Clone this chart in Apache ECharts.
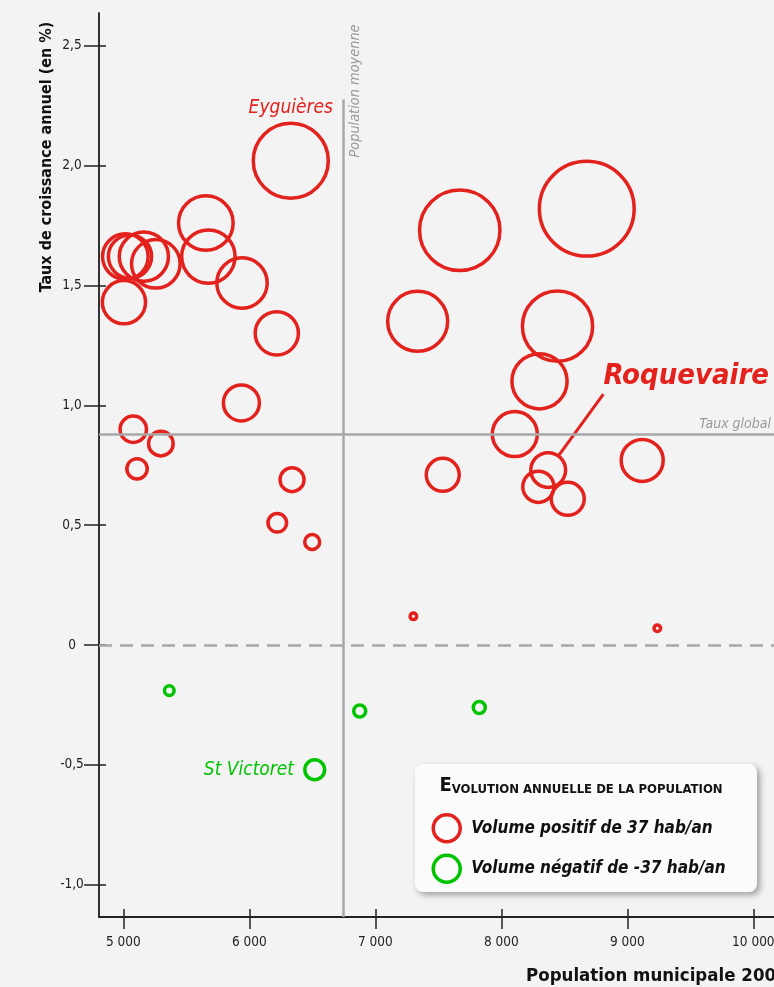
<!DOCTYPE html>
<html>
<head>
<meta charset="utf-8">
<script src="https://cdn.jsdelivr.net/npm/echarts@6/dist/echarts.min.js"></script>
<style>
html,body{margin:0;padding:0;background:#f3f3f3;overflow:hidden;}
#chart{width:774px;height:987px;}
</style>
</head>
<body>
<div id="chart"></div>
<script>
// ---- Data ----
// Communes with a positive annual volume (population 2007, annual growth %, volume hab/an)
const posNames = ['Eyguières', '', '', '', '', '', '', '', 'Roquevaire', '', '', '', '', '', '', '', '', '', '', '', '', '', '', '', '', '', '', '', '', ''];
const posPopulation = [6329, 7670, 8678, 7336, 8446, 8303, 8107, 7535, 8372, 8294, 8527, 9118, 5937, 5079, 5298, 5109, 6339, 6222, 6499, 7302, 9238, 5016, 5053, 5163, 5258, 5005, 5655, 5675, 5942, 6218];
const posRate =       [2.02, 1.73, 1.82, 1.35, 1.33, 1.10, 0.88, 0.71, 0.73, 0.66, 0.61, 0.77, 1.01, 0.90, 0.84, 0.735, 0.69, 0.51, 0.43, 0.12, 0.07, 1.62, 1.62, 1.62, 1.59, 1.43, 1.76, 1.62, 1.51, 1.30];
const posVolume =     [125, 134, 158, 100, 117, 92, 75, 55, 58, 52, 55, 70, 60, 44, 41, 34, 40, 31, 25, 11, 11, 76, 72, 82, 81, 72, 91, 89, 84, 72];

// Communes with a negative annual volume
const negNames = ['', '', '', 'St Victoret'];
const negPopulation = [5365, 6876, 7825, 6519];
const negRate = [-0.19, -0.275, -0.26, -0.52];
const negVolume = [-16, -20, -20, -33];

// Reference values
const avgPopulation = 6746;     // Population moyenne
const globalRate = 0.884;       // Taux global
const legendVolume = 37;

// Axes
const xMin = 4807, xMax = 10164;
const yMin = -1.134, yMax = 2.636;
const xTicks = [5000, 6000, 7000, 8000, 9000, 10000];
const yTicks = [-1, -0.5, 0, 0.5, 1, 1.5, 2, 2.5];
const avgLineTop = 2.275;

const seriesPosName = 'Volume positif de ' + legendVolume + ' hab/an';
const seriesNegName = 'Volume négatif de -' + legendVolume + ' hab/an';

// ---- Styling ----
const FONT = "'DejaVu Sans Condensed', 'Liberation Sans Narrow', sans-serif";
const RED = '#e3211d';
const GREEN = '#00c400';
const GRAY = '#a8a8a8';
const DIAM_PER_VOL = 0.6;
const STROKE = 3.5;

function build(names, pops, rates, vols) {
  return pops.map((p, i) => ({ name: names[i], value: [p, rates[i], vols[i]] }));
}
const posData = build(posNames, posPopulation, posRate, posVolume);
const negData = build(negNames, negPopulation, negRate, negVolume);

posData.forEach(d => {
  if (d.name === 'Eyguières') {
    d.label = { show: true, position: 'top', distance: 4, formatter: '{b}', color: RED,
      fontFamily: FONT, fontStyle: 'italic', fontSize: 19 };
  } else if (d.name === 'Roquevaire') {
    d.label = { show: true, position: 'inside', formatter: '{b}\n', color: RED, lineHeight: 36,
      fontFamily: FONT, fontStyle: 'italic', fontWeight: 'bold', fontSize: 29 };
    d.labelLine = { show: true, length2: 0, lineStyle: { color: RED, width: 3 } };
  }
});
negData.forEach(d => {
  if (d.name === 'St Victoret') {
    d.label = { show: true, position: 'left', distance: 9, formatter: '{b}', color: GREEN,
      fontFamily: FONT, fontStyle: 'italic', fontSize: 19 };
  }
});
const roqIdx = posNames.indexOf('Roquevaire');

const fmtX = v => String(v).replace(/\B(?=(\d{3})+(?!\d))/g, ' ');
const fmtY = v => v === 0 ? '0' : v.toFixed(1).replace('.', ',');

const chart = echarts.init(document.getElementById('chart'), null, { renderer: 'canvas' });
const tickColor = '#222';

chart.setOption({
  backgroundColor: '#f3f3f3',
  animation: false,
  grid: { left: 99, right: 0, top: 13, bottom: 70, containLabel: false, outerBoundsMode: 'none' },
  xAxis: [{
    type: 'value', min: xMin, max: xMax, position: 'bottom',
    axisLine: { onZero: false, lineStyle: { color: tickColor, width: 2 } },
    axisTick: { show: true, customValues: xTicks, length: 12, lineStyle: { color: tickColor, width: 1.5 } },
    axisLabel: { customValues: xTicks, formatter: fmtX, margin: 18, fontFamily: FONT, fontSize: 13.5, color: '#222' },
    splitLine: { show: false }
  }, {
    type: 'value', min: xMin, max: xMax, position: 'bottom',
    axisLine: { show: false, onZero: false },
    axisTick: { show: true, inside: true, customValues: xTicks, length: 8, lineStyle: { color: tickColor, width: 1.5 } },
    axisLabel: { show: false },
    splitLine: { show: false }
  }],
  yAxis: [{
    type: 'value', min: yMin, max: yMax, position: 'left',
    axisLine: { show: true, onZero: false, lineStyle: { color: '#333', width: 2 } },
    axisTick: { show: true, customValues: yTicks, length: 15, lineStyle: { color: tickColor, width: 1.5 } },
    axisLabel: { customValues: yTicks, formatter: fmtY, margin: 27, align: 'center', fontFamily: FONT, fontSize: 13.5, color: '#222' },
    splitLine: { show: false }
  }, {
    type: 'value', min: yMin, max: yMax, position: 'left',
    axisLine: { show: false, onZero: false },
    axisTick: { show: true, inside: true, customValues: yTicks, length: 7, lineStyle: { color: tickColor, width: 1.5 } },
    axisLabel: { show: false },
    splitLine: { show: false }
  }],
  legend: {
    orient: 'vertical', left: 431.5, top: 813, padding: 0,
    itemWidth: 27, itemHeight: 27, itemGap: 10, icon: 'circle',
    selectedMode: false,
    itemStyle: { borderWidth: STROKE, opacity: 1 },
    textStyle: { fontFamily: FONT, fontStyle: 'italic', fontWeight: 'bold', fontSize: 17, color: '#111', padding: [0, 0, 0, 6] },
    data: [seriesPosName, seriesNegName], z: 5
  },
  series: [{
    name: seriesPosName, type: 'scatter', xAxisIndex: 0, yAxisIndex: 0,
    data: posData,
    symbol: 'circle',
    symbolSize: v => Math.abs(v[2]) * DIAM_PER_VOL,
    itemStyle: { color: 'rgba(0,0,0,0)', borderColor: RED, borderWidth: STROKE, opacity: 1 },
    emphasis: { disabled: true },
    labelLayout: p => (p.dataIndex === roqIdx ? { dx: 138, dy: -76 } : null),
    markLine: {
      silent: true, symbol: 'none', animation: false,
      data: [
        { yAxis: globalRate, lineStyle: { color: GRAY, width: 2.5, type: 'solid' },
          label: { show: true, position: 'insideEndTop', formatter: 'Taux global', color: '#999',
                   fontFamily: FONT, fontStyle: 'italic', fontSize: 14, distance: 3 } },
        { yAxis: 0, lineStyle: { color: GRAY, width: 2.5, type: [13, 8] }, label: { show: false } },
        [{ coord: [avgPopulation, avgLineTop] }, { coord: [avgPopulation, yMin],
          lineStyle: { color: GRAY, width: 2.5, type: 'solid' }, label: { show: false } }]
      ]
    }
  }, {
    name: seriesNegName, type: 'scatter', xAxisIndex: 0, yAxisIndex: 0,
    data: negData,
    symbol: 'circle',
    symbolSize: v => Math.abs(v[2]) * DIAM_PER_VOL,
    itemStyle: { color: 'rgba(0,0,0,0)', borderColor: GREEN, borderWidth: STROKE, opacity: 1 },
    emphasis: { disabled: true }
  }],
  graphic: [
    { type: 'text', x: 47, y: 157, rotation: Math.PI / 2, z: 10,
      style: { text: 'Taux de croissance annuel (en %)', fontFamily: FONT, fontWeight: 'bold', fontSize: 16,
               fill: '#111', align: 'center', verticalAlign: 'middle' } },
    { type: 'text', x: 526, y: 976, z: 10,
      style: { text: 'Population municipale 2007', fontFamily: FONT, fontWeight: 'bold', fontSize: 18.5,
               fill: '#111', align: 'left', verticalAlign: 'middle' } },
    { type: 'text', x: 355, y: 91, rotation: Math.PI / 2, z: 10,
      style: { text: 'Population moyenne', fontFamily: FONT, fontStyle: 'italic', fontSize: 14.4,
               fill: '#999', align: 'center', verticalAlign: 'middle' } },
    { type: 'rect', z: 1,
      shape: { x: 415, y: 764, width: 342, height: 128, r: 8 },
      style: { fill: '#fbfbfb', shadowBlur: 6, shadowOffsetX: 3, shadowOffsetY: 3, shadowColor: 'rgba(0,0,0,0.35)' } },
    { type: 'text', x: 581, y: 786, z: 10,
      style: { text: '{a|E}{b|VOLUTION ANNUELLE DE LA POPULATION}', align: 'center', verticalAlign: 'middle',
               rich: { a: { fontFamily: FONT, fontWeight: 'bold', fontSize: 20, fill: '#111', verticalAlign: 'bottom' },
                       b: { fontFamily: FONT, fontWeight: 'bold', fontSize: 13, fill: '#111', verticalAlign: 'bottom' } } } }
  ]
});
</script>
</body>
</html>
